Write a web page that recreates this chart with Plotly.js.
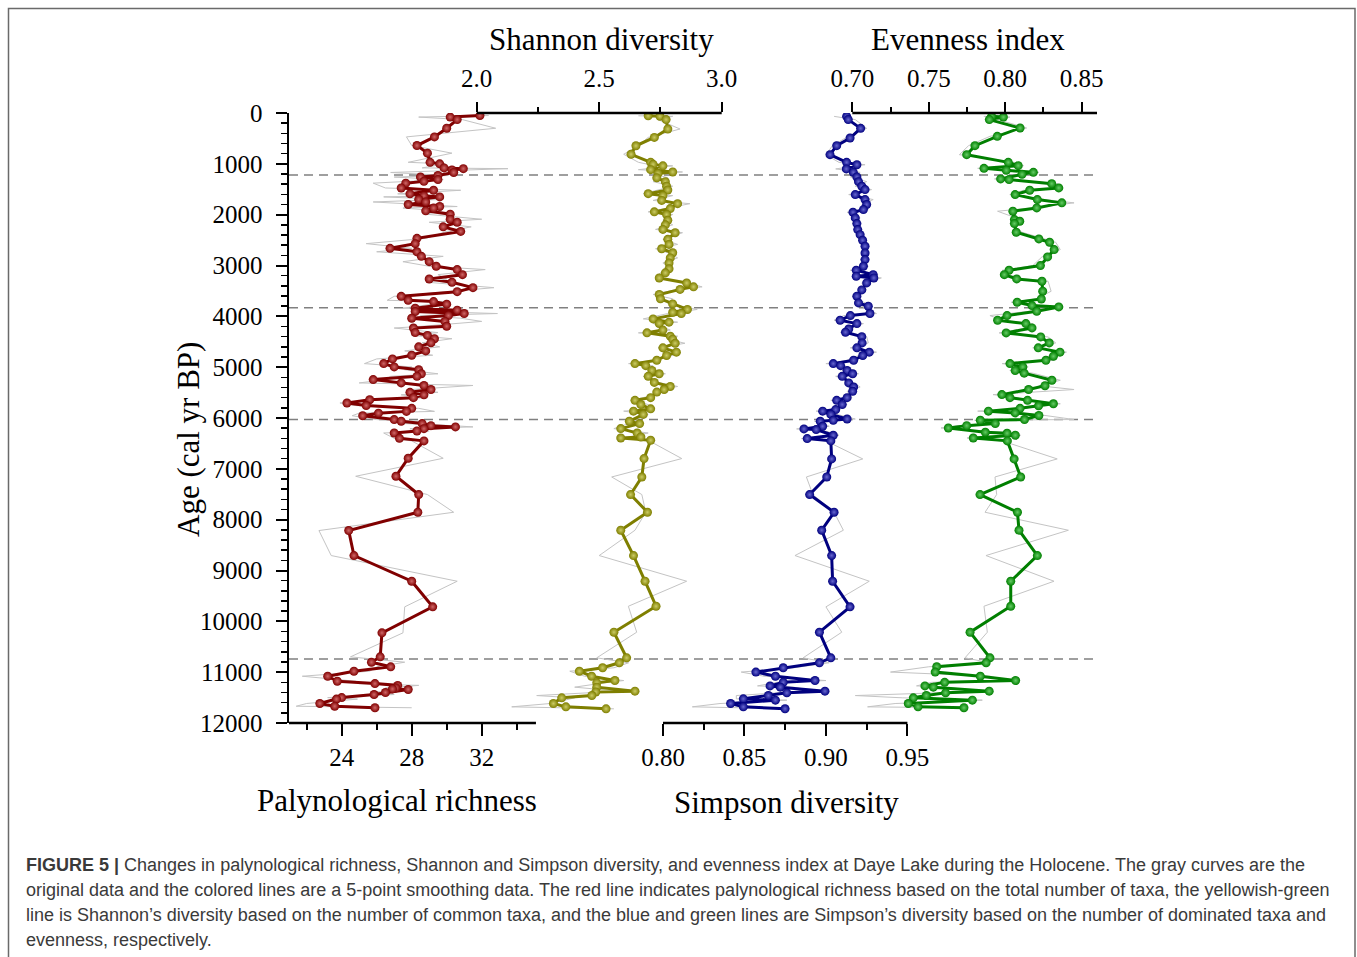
<!DOCTYPE html>
<html>
<head>
<meta charset="utf-8">
<script src="https://cdn.plot.ly/plotly-3.0.1.min.js"></script>
<style>
  html, body { margin: 0; padding: 0; background: #ffffff; }
  #chart { width: 1357px; height: 957px; }
</style>
</head>
<body>
<div id="chart"></div>
<script>
// ---- Palynological richness (age in cal yr BP; smoothed and original values) ----
const richAge = [50,80,130,300,470,640,790,970,1000,1080,1095,1120,1170,1230,1260,1310,1345,1380,1475,1520,1590,1630,1650,1700,1750,1800,1840,1870,1925,1990,2090,2150,2240,2330,2466,2570,2662,2730,2820,2925,3015,3080,3180,3265,3330,3436,3515,3606,3685,3710,3760,3840,3880,3905,3945,3985,4037,4100,4195,4230,4320,4375,4440,4520,4600,4680,4765,4838,4930,4995,5050,5130,5180,5245,5310,5360,5440,5495,5545,5600,5640,5705,5755,5810,5870,5905,5955,6031,6063,6110,6150,6175,6210,6255,6295,6400,6450,6792,7146,7506,7854,8214,8706,9211,9715,10227,10699,10804,10895,10981,11080,11178,11225,11260,11310,11330,11340,11400,11440,11500,11530,11616,11670,11700];
const richSmooth = [31.9,30.2,30.6,30.0,29.3,28.3,28.9,29.05,29.6,29.85,30.95,30.3,30.4,29.5,28.5,29.5,28.7,27.66,27.4,29.25,27.9,28.7,29.6,28.4,28.8,27.8,29.6,29.25,28.8,30.2,30.2,30.6,29.8,30.8,28.3,28.2,26.76,28.3,28.55,29.0,29.4,30.6,30.9,29.0,30.3,31.5,30.6,27.4,27.8,29.25,30.0,28.2,30.6,28.2,31.0,30.1,28.0,29.9,30.0,28.1,28.2,28.9,29.3,29.1,28.4,28.8,28.0,26.9,26.4,27.0,28.4,28.55,28.3,25.8,27.4,28.7,29.1,27.9,28.7,28.1,25.6,24.3,25.4,28.0,27.7,26.1,25.2,27.0,27.4,28.6,29.1,30.5,28.7,28.3,27.0,27.3,28.7,27.8,27.1,28.4,28.35,24.4,24.7,28.0,29.2,26.3,26.2,25.7,26.8,24.7,23.2,23.75,25.9,27.2,27.1,26.9,27.8,26.5,25.85,24.0,23.7,22.75,23.6,25.9];
const richRaw = [32.4,28.4,30.9,32.8,27.7,28.0,30.3,27.8,29.9,28.6,33.5,31.2,26.8,30.1,27.0,29.8,28.0,25.8,26.5,30.8,27.2,29.5,26.4,29.8,25.8,28.3,30.6,27.5,29.7,28.8,32.0,29.0,31.4,30.0,28.8,25.4,28.0,26.0,29.8,27.5,29.0,32.2,29.5,30.0,28.9,32.7,30.0,27.0,26.6,30.0,29.2,27.5,31.2,29.0,32.9,28.5,30.8,32.0,28.6,27.0,29.5,28.0,30.3,28.6,29.6,27.6,29.2,26.0,25.3,28.0,27.6,29.5,26.8,26.5,25.0,31.5,28.0,29.5,27.4,28.9,26.4,23.9,24.8,28.4,29.3,25.0,24.6,26.0,28.5,27.6,30.3,31.5,27.9,29.0,26.4,27.0,28.0,29.8,24.8,28.9,30.4,22.7,23.4,30.6,27.6,27.5,24.5,27.6,26.0,25.6,21.75,24.8,25.0,28.4,26.5,27.0,27.3,25.8,27.0,23.2,24.9,22.0,21.4,28.0];

// ---- Shannon diversity ----
const shanAge = [55,65,130,315,480,645,812,970,1010,1040,1115,1160,1190,1275,1350,1440,1515,1587,1625,1720,1784,1880,1945,1997,2110,2200,2290,2355,2485,2585,2670,2750,2850,2950,3065,3145,3245,3345,3420,3470,3570,3655,3755,3865,3920,3945,4050,4115,4140,4270,4325,4390,4450,4530,4620,4705,4770,4865,4930,4970,5065,5130,5180,5300,5380,5440,5490,5600,5652,5735,5820,5865,5930,6065,6110,6209,6295,6374,6393,6438,6798,7160,7506,7854,8208,8706,9211,9703,10214,10718,10816,10914,10981,11080,11165,11210,11295,11374,11390,11460,11505,11617,11682,11721];
const shanSmooth = [2.70,2.748,2.773,2.78,2.725,2.65,2.63,2.71,2.72,2.76,2.71,2.80,2.74,2.735,2.77,2.775,2.78,2.70,2.76,2.755,2.82,2.79,2.725,2.775,2.78,2.77,2.76,2.81,2.78,2.785,2.755,2.80,2.79,2.785,2.785,2.77,2.745,2.857,2.885,2.83,2.745,2.75,2.80,2.86,2.80,2.835,2.72,2.785,2.745,2.76,2.695,2.79,2.80,2.81,2.76,2.815,2.775,2.735,2.646,2.69,2.715,2.745,2.70,2.725,2.79,2.765,2.735,2.71,2.646,2.67,2.71,2.64,2.68,2.623,2.665,2.588,2.655,2.67,2.588,2.71,2.683,2.674,2.628,2.697,2.588,2.64,2.687,2.732,2.56,2.612,2.582,2.514,2.419,2.469,2.564,2.49,2.49,2.646,2.486,2.47,2.347,2.313,2.364,2.528];
const shanRaw = [2.66,2.80,2.74,2.83,2.70,2.66,2.60,2.66,2.70,2.80,2.66,2.84,2.72,2.78,2.72,2.80,2.74,2.68,2.80,2.72,2.87,2.76,2.70,2.80,2.76,2.80,2.73,2.84,2.76,2.82,2.73,2.78,2.82,2.76,2.80,2.75,2.73,2.86,2.92,2.82,2.72,2.80,2.78,2.90,2.82,2.78,2.68,2.82,2.72,2.79,2.66,2.82,2.78,2.85,2.74,2.83,2.80,2.72,2.62,2.72,2.70,2.77,2.68,2.74,2.82,2.75,2.76,2.68,2.63,2.70,2.72,2.60,2.70,2.64,2.62,2.56,2.70,2.62,2.60,2.70,2.837,2.551,2.674,2.69,2.646,2.50,2.857,2.619,2.653,2.49,2.62,2.56,2.38,2.44,2.60,2.52,2.40,2.58,2.52,2.245,2.40,2.30,2.143,2.56];

// ---- Simpson diversity ----
const simpAge = [66,130,302,492,643,820,971,1017,1100,1167,1258,1350,1441,1507,1605,1703,1801,1900,1953,2064,2176,2294,2393,2504,2622,2753,2884,3015,3094,3180,3212,3245,3343,3480,3605,3736,3801,3945,3985,4077,4143,4250,4313,4400,4523,4620,4705,4770,4865,4930,4970,5065,5130,5180,5310,5390,5475,5600,5652,5735,5835,5865,5930,6020,6045,6065,6163,6215,6228,6340,6405,6450,6805,7160,7506,7854,8208,8706,9211,9715,10214,10718,10816,10914,10998,11080,11165,11200,11270,11295,11374,11407,11460,11525,11550,11617,11682,11720];
const simpSmooth = [0.9127,0.9137,0.9213,0.9148,0.9066,0.9025,0.9127,0.919,0.9125,0.9168,0.919,0.920,0.922,0.924,0.918,0.924,0.925,0.923,0.9166,0.918,0.919,0.9195,0.921,0.9225,0.924,0.924,0.924,0.923,0.9186,0.929,0.9186,0.9294,0.925,0.922,0.919,0.920,0.926,0.927,0.915,0.9087,0.919,0.914,0.912,0.922,0.9222,0.919,0.9266,0.9226,0.917,0.9045,0.909,0.913,0.9164,0.910,0.914,0.917,0.9164,0.913,0.9066,0.910,0.906,0.898,0.903,0.913,0.9045,0.8965,0.898,0.8865,0.894,0.9045,0.8885,0.903,0.9035,0.9005,0.890,0.905,0.8974,0.9035,0.9041,0.9148,0.896,0.903,0.896,0.8738,0.857,0.869,0.8933,0.8738,0.8657,0.872,0.8994,0.876,0.8647,0.8493,0.869,0.8415,0.8493,0.8749];
const simpRaw = [0.905,0.918,0.925,0.912,0.904,0.900,0.908,0.924,0.906,0.921,0.915,0.925,0.918,0.928,0.914,0.929,0.922,0.926,0.913,0.921,0.916,0.922,0.919,0.925,0.922,0.926,0.921,0.926,0.915,0.932,0.916,0.934,0.922,0.925,0.916,0.924,0.922,0.931,0.911,0.905,0.923,0.912,0.909,0.925,0.926,0.915,0.931,0.920,0.913,0.900,0.912,0.910,0.920,0.906,0.917,0.921,0.913,0.916,0.903,0.913,0.902,0.894,0.907,0.918,0.900,0.893,0.902,0.882,0.897,0.908,0.885,0.900,0.9226,0.888,0.892,0.905,0.9107,0.881,0.9266,0.900,0.9097,0.886,0.902,0.880,0.848,0.862,0.900,0.870,0.858,0.880,0.894,0.870,0.845,0.845,0.876,0.835,0.818,0.878];

// ---- Evenness index ----
const evenAge = [66,80,130,295,459,643,820,971,1036,1089,1128,1167,1206,1297,1310,1390,1474,1520,1605,1703,1768,1867,1932,2097,2130,2176,2346,2477,2543,2687,2831,3002,3094,3180,3264,3310,3507,3658,3723,3788,3815,3900,3985,4077,4143,4228,4326,4405,4523,4620,4705,4785,4865,4930,4995,5065,5118,5258,5365,5440,5540,5600,5652,5720,5760,5810,5865,5900,5950,6030,6045,6110,6150,6196,6280,6300,6340,6393,6450,6805,7160,7506,7854,8208,8706,9211,9703,10214,10718,10816,10894,10998,11080,11165,11200,11270,11295,11374,11407,11460,11505,11550,11617,11682,11700];
const evenSmooth = [0.7911,0.7988,0.7896,0.8097,0.7948,0.7802,0.7748,0.802,0.8085,0.7861,0.8007,0.8184,0.811,0.797,0.8025,0.8304,0.835,0.816,0.8065,0.821,0.837,0.8206,0.805,0.806,0.8095,0.806,0.8072,0.822,0.829,0.832,0.8277,0.823,0.8025,0.7994,0.8075,0.824,0.8245,0.8236,0.8078,0.8175,0.835,0.8206,0.8012,0.795,0.8135,0.8175,0.8006,0.8232,0.8288,0.8216,0.8358,0.8315,0.8266,0.8031,0.8115,0.8065,0.8124,0.8305,0.826,0.8153,0.7978,0.8031,0.8146,0.8315,0.8218,0.8097,0.789,0.8065,0.822,0.8126,0.7837,0.7935,0.7748,0.7628,0.787,0.8012,0.8066,0.7791,0.8014,0.8058,0.8101,0.7835,0.808,0.809,0.821,0.8036,0.8036,0.777,0.790,0.7875,0.7552,0.7542,0.7837,0.8068,0.7604,0.7475,0.753,0.7895,0.761,0.7484,0.7399,0.7785,0.7366,0.743,0.773];
const evenRaw = [0.786,0.803,0.795,0.814,0.790,0.776,0.770,0.806,0.812,0.782,0.805,0.822,0.814,0.793,0.806,0.834,0.838,0.812,0.803,0.826,0.845,0.818,0.795,0.810,0.806,0.803,0.811,0.826,0.833,0.836,0.824,0.818,0.798,0.802,0.812,0.828,0.830,0.820,0.804,0.822,0.838,0.816,0.790,0.798,0.818,0.814,0.796,0.828,0.833,0.818,0.840,0.828,0.832,0.798,0.815,0.803,0.818,0.836,0.822,0.845,0.792,0.808,0.812,0.836,0.818,0.814,0.782,0.810,0.826,0.845,0.780,0.790,0.770,0.758,0.792,0.805,0.810,0.775,0.798,0.834,0.7933,0.7944,0.7868,0.8413,0.7874,0.8319,0.7861,0.7883,0.7737,0.790,0.750,0.725,0.790,0.800,0.752,0.742,0.760,0.785,0.755,0.702,0.733,0.785,0.728,0.710,0.768];

// Zone boundaries (cal yr BP)
const zoneBounds = [1220, 3830, 6030, 10740];

// Tick values for the four value axes
const richTicks = [24, 28, 32], richMinor = [22, 26, 30, 34];
const shanTicks = [2.0, 2.5, 3.0], shanMinor = [2.25, 2.75];
const simpTicks = [0.80, 0.85, 0.90, 0.95], simpMinor = [0.825, 0.875, 0.925];
const evenTicks = [0.70, 0.75, 0.80, 0.85], evenMinor = [0.725, 0.775, 0.825];

const captionLines = [
  '<b>FIGURE 5 |</b> Changes in palynological richness, Shannon and Simpson diversity, and evenness index at Daye Lake during the Holocene. The gray curves are the',
  'original data and the colored lines are a 5-point smoothing data. The red line indicates palynological richness based on the total number of taxa, the yellowish-green',
  'line is Shannon’s diversity based on the number of common taxa, and the blue and green lines are Simpson’s diversity based on the number of dominated taxa and',
  'evenness, respectively.'
];

// ---- frame geometry (pixels) ----
const W = 1357, H = 957;
const PL = 289, PR = 1097, PT = 113, PB = 723;
const px = p => (p - PL) / (PR - PL);
const py = p => (PB - p) / (PB - PT);

// axis range such that value v1 sits at pixel p1 and v2 at p2
function rangeFor(v1, p1, v2, p2) {
  const k = (v2 - v1) / (p2 - p1);
  return [v1 - (p1 - PL) * k, v1 + (PR - p1) * k];
}
const richRange = rangeFor(24, 341.7, 32, 481.7);
const shanRange = rangeFor(2.0, 476.7, 3.0, 721.7);
const simpRange = rangeFor(0.80, 663, 0.95, 907.4);
const evenRange = rangeFor(0.70, 852.3, 0.85, 1081.7);

const SERIF = 'Liberation Serif, Times New Roman, serif';
const SANS = 'Liberation Sans, Arial, sans-serif';
const tickFont = { family: SERIF, size: 25, color: '#000' };

function valueAxis(range, ticks, minor, fmt, extra) {
  return Object.assign({
    range: range, fixedrange: true, showgrid: false, zeroline: false, showline: false,
    tickmode: 'array', tickvals: ticks, ticktext: ticks.map(v => v.toFixed(fmt)),
    ticks: 'outside', ticklen: 12, tickwidth: 2, tickcolor: '#000', tickfont: tickFont,
    minor: { tickmode: 'array', tickvals: minor, ticks: 'outside', ticklen: 6, tickwidth: 2, tickcolor: '#000', showgrid: false }
  }, extra);
}
function topMinor(vals) {
  return { tickmode: 'array', tickvals: vals, ticks: 'outside', ticklen: 5, tickwidth: 2, tickcolor: '#000', showgrid: false };
}

function seriesTraces(age, smooth, raw, xa, color, light) {
  return [
    { x: raw, y: age, xaxis: xa, yaxis: 'y', type: 'scatter', mode: 'lines',
      line: { color: '#c4c4c4', width: 1 }, hoverinfo: 'skip', showlegend: false },
    { x: smooth, y: age, xaxis: xa, yaxis: 'y', type: 'scatter', mode: 'lines+markers',
      line: { color: color, width: 3 },
      marker: { size: 9, color: color, line: { width: 0 }, gradient: { type: 'radial', color: light } },
      showlegend: false }
  ];
}

const data = [].concat(
  seriesTraces(richAge, richSmooth, richRaw, 'x', '#800000', '#d06868'),
  seriesTraces(shanAge, shanSmooth, shanRaw, 'x2', '#7f7f00', '#cccc66'),
  seriesTraces(simpAge, simpSmooth, simpRaw, 'x3', '#00007f', '#6868d0'),
  seriesTraces(evenAge, evenSmooth, evenRaw, 'x4', '#007f00', '#66cc66')
);

const yBase = {
  range: [12000, 0], fixedrange: true, showgrid: false, zeroline: false,
  showline: true, linewidth: 2.5, linecolor: '#000',
  tickmode: 'linear', tick0: 0, dtick: 1000, tickformat: 'd',
  ticklen: 11, tickwidth: 2, tickcolor: '#000', tickfont: tickFont
};

const layout = {
  width: W, height: H,
  margin: { l: PL, r: W - PR, t: PT, b: H - PB },
  paper_bgcolor: '#ffffff', plot_bgcolor: 'rgba(0,0,0,0)',
  showlegend: false,
  xaxis: valueAxis(richRange, richTicks, richMinor, 0, { side: 'bottom', anchor: 'y' }),
  xaxis2: valueAxis(shanRange, shanTicks, shanMinor, 1, { side: 'top', anchor: 'y', overlaying: 'x', ticklen: 10, ticklabelstandoff: 5, minor: topMinor(shanMinor) }),
  xaxis3: valueAxis(simpRange, simpTicks, simpMinor, 2, { side: 'bottom', anchor: 'y', overlaying: 'x' }),
  xaxis4: valueAxis(evenRange, evenTicks, evenMinor, 2, { side: 'top', anchor: 'y', overlaying: 'x', ticklen: 10, ticklabelstandoff: 5, minor: topMinor(evenMinor) }),
  yaxis: Object.assign({}, yBase, { side: 'left', anchor: 'x', ticks: 'outside', ticklabelstandoff: 8,
    minor: { dtick: 200, ticks: 'outside', ticklen: 6, tickwidth: 1.5, tickcolor: '#000' } }),
  yaxis2: Object.assign({}, yBase, { side: 'right', anchor: 'x', overlaying: 'y', ticks: 'inside', ticklabelstandoff: 16,
    minor: { dtick: 200, ticks: 'inside', ticklen: 6, tickwidth: 1.5, tickcolor: '#000' } }),
  shapes: [],
  annotations: []
};

// partial axis lines drawn only over each scale's own span
const axisLine = { color: '#000', width: 2.5 };
layout.shapes.push(
  { type: 'line', xref: 'x', yref: 'paper', x0: richRange[0], x1: 35.1, y0: 0, y1: 0, line: axisLine },
  { type: 'line', xref: 'x2', yref: 'paper', x0: 2.0, x1: 3.0, y0: 1, y1: 1, line: axisLine },
  { type: 'line', xref: 'x3', yref: 'paper', x0: 0.80, x1: 0.95, y0: 0, y1: 0, line: axisLine },
  { type: 'line', xref: 'x4', yref: 'paper', x0: 0.70, x1: evenRange[1], y0: 1, y1: 1, line: axisLine }
);
zoneBounds.forEach(a => layout.shapes.push({
  type: 'line', xref: 'paper', yref: 'y', x0: 0, x1: 1, y0: a, y1: a, layer: 'below',
  line: { color: '#808080', width: 1.6, dash: '9px,6px' }
}));
// figure frame
layout.shapes.push({
  type: 'rect', xref: 'paper', yref: 'paper', x0: px(8.5), x1: px(1355), y0: py(8.5), y1: py(1000),
  line: { color: '#6a6a6a', width: 1.5 }, fillcolor: 'rgba(0,0,0,0)', layer: 'below'
});

function label(text, cx, cy, size, angle) {
  return { text: text, xref: 'paper', yref: 'paper', x: px(cx), y: py(cy), xanchor: 'center', yanchor: 'middle',
    showarrow: false, textangle: angle || 0, font: { family: SERIF, size: size, color: '#000' } };
}
layout.annotations.push(
  label('Shannon diversity', 601, 40, 31),
  label('Evenness index', 968, 40, 31),
  label('Palynological richness', 397, 800, 31),
  label('Simpson diversity', 786, 802, 31),
  label('Age (cal yr BP)', 188, 440, 31, -90)
);
captionLines.forEach((t, i) => layout.annotations.push({
  text: t, xref: 'paper', yref: 'paper', x: px(24), y: py(865 + 25 * i), xanchor: 'left', yanchor: 'middle',
  showarrow: false, font: { family: SANS, size: 18, color: '#3a3a3a' }
}));

Plotly.newPlot('chart', data, layout, { displayModeBar: false, staticPlot: true });
</script>
</body>
</html>
